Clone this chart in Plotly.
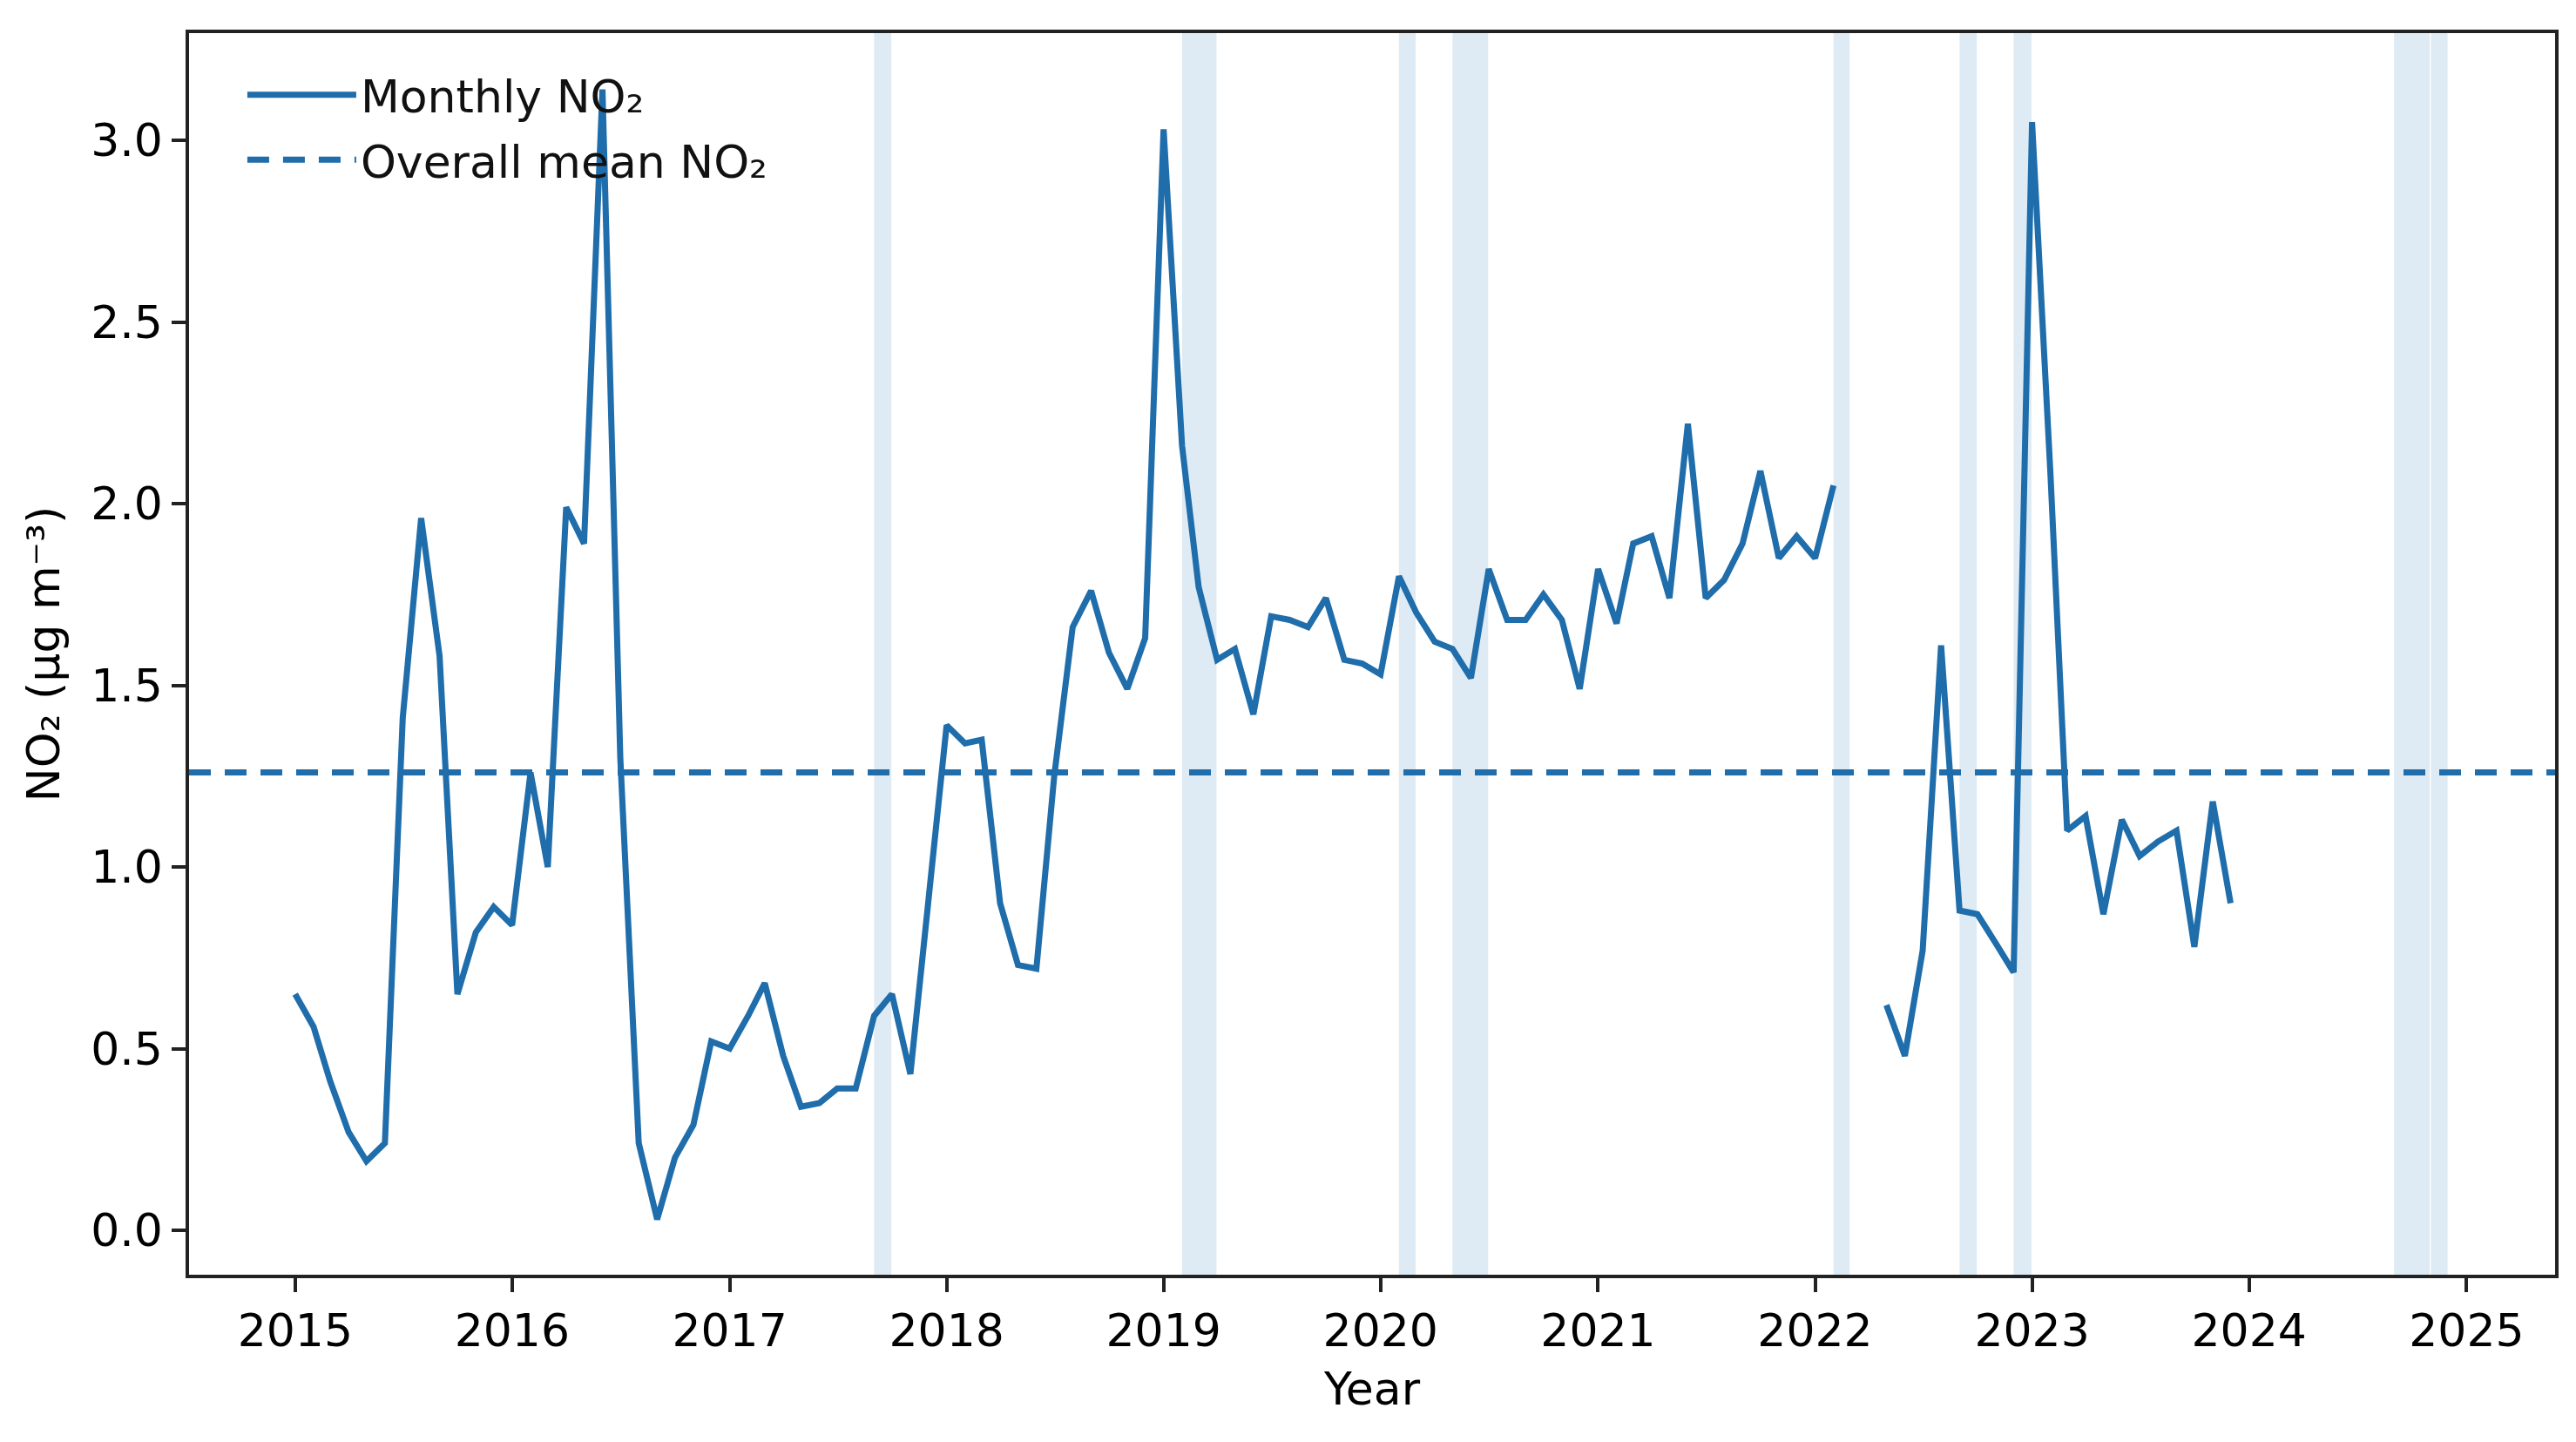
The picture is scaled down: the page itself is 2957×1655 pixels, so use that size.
import plotly.graph_objects as go

# ---------------- data ----------------
MONTHS = [f"{y}-{m:02d}-01" for y in range(2015, 2024) for m in range(1, 13)]

NO2_2015 = [0.65, 0.56, 0.41, 0.27, 0.19, 0.24, 1.41, 1.96, 1.58, 0.65, 0.82, 0.89]
NO2_2016 = [0.84, 1.26, 1.00, 1.99, 1.89, 3.14, 1.30, 0.24, 0.03, 0.20, 0.29, 0.52]
NO2_2017 = [0.50, 0.59, 0.68, 0.48, 0.34, 0.35, 0.39, 0.39, 0.59, 0.65, 0.43, 0.92]
NO2_2018 = [1.39, 1.34, 1.35, 0.90, 0.73, 0.72, 1.25, 1.66, 1.76, 1.59, 1.49, 1.63]
NO2_2019 = [3.03, 2.16, 1.77, 1.57, 1.60, 1.42, 1.69, 1.68, 1.66, 1.74, 1.57, 1.56]
NO2_2020 = [1.53, 1.80, 1.70, 1.62, 1.60, 1.52, 1.82, 1.68, 1.68, 1.75, 1.68, 1.49]
NO2_2021 = [1.82, 1.67, 1.89, 1.91, 1.74, 2.22, 1.74, 1.79, 1.89, 2.09, 1.85, 1.91]
NO2_2022 = [1.85, 2.05, None, None, 0.62, 0.48, 0.77, 1.61, 0.88, 0.87, 0.79, 0.71]
NO2_2023 = [3.05, 2.08, 1.10, 1.14, 0.87, 1.13, 1.03, 1.07, 1.10, 0.78, 1.18, 0.90]

OVERALL_MEAN = 1.26

SPAN_STARTS = ["2017-09-01", "2019-02-01", "2020-02-01", "2020-05-01", "2022-02-01",
               "2022-09-01", "2022-12-01", "2024-09-01", "2024-11-02"]
SPAN_ENDS = ["2017-09-30", "2019-03-31", "2020-02-29", "2020-06-30", "2022-02-28",
             "2022-09-30", "2022-12-31", "2024-10-31", "2024-11-30"]

YEAR_TICKS = [f"{y}-01-01" for y in range(2015, 2026)]
YEAR_LABELS = [str(y) for y in range(2015, 2026)]
Y_TICKS = [0.0, 0.5, 1.0, 1.5, 2.0, 2.5, 3.0]

X_RANGE = ["2014-07-06 12:00", "2025-05-29 22:00"]
Y_RANGE = [-0.1223, 3.295]

# ---------------- styling ----------------
LINE_COLOR = "#1f6dab"
SPAN_COLOR = "rgba(31,119,180,0.15)"
AXIS_COLOR = "#222222"
FONT = "DejaVu Sans"
FS = 52

values = (NO2_2015 + NO2_2016 + NO2_2017 + NO2_2018 + NO2_2019 +
          NO2_2020 + NO2_2021 + NO2_2022 + NO2_2023)

fig = go.Figure()

fig.add_trace(go.Scatter(
    x=MONTHS, y=values, mode="lines", name="Monthly NO₂", legendgroup="monthly",
    line=dict(color=LINE_COLOR, width=7), connectgaps=False,
))

shapes = []
for s, e in zip(SPAN_STARTS, SPAN_ENDS):
    shapes.append(dict(type="rect", xref="x", yref="paper", x0=s, x1=e, y0=0, y1=1,
                       fillcolor=SPAN_COLOR, line=dict(width=0), layer="below"))
shapes.append(dict(type="line", xref="paper", yref="y", x0=0, x1=1,
                   y0=OVERALL_MEAN, y1=OVERALL_MEAN, layer="below",
                   line=dict(color=LINE_COLOR, width=7, dash="25px,16px"),
                   showlegend=True, name="Overall mean NO₂", legendgroup="mean"))

# page body has an 8px margin: shrink the figure so the plot area lands where the reference has it
fig.update_layout(
    width=2941, height=1639,
    margin=dict(l=209, r=14, t=30, b=184, pad=0),
    paper_bgcolor="white", plot_bgcolor="white",
    font=dict(family=FONT, size=FS, color="black"),
    shapes=shapes,
    showlegend=True,
    legend=dict(x=0.0228, y=0.9787, xanchor="left", yanchor="top",
                itemwidth=125, traceorder="grouped", tracegroupgap=4,
                bgcolor="rgba(0,0,0,0)", borderwidth=0,
                font=dict(family=FONT, size=FS, color="#111")),
    xaxis=dict(
        type="date", range=X_RANGE,
        tickvals=YEAR_TICKS, ticktext=YEAR_LABELS,
        showgrid=False, zeroline=False,
        showline=True, linecolor=AXIS_COLOR, linewidth=3.5, mirror=True,
        ticks="outside", ticklen=16, tickwidth=3.5, tickcolor=AXIS_COLOR,
        tickfont=dict(family=FONT, size=FS, color="black"),
        title=dict(text="Year", font=dict(family=FONT, size=FS, color="black"), standoff=20),
    ),
    yaxis=dict(
        range=Y_RANGE, tickvals=Y_TICKS, tickformat=".1f",
        showgrid=False, zeroline=False,
        showline=True, linecolor=AXIS_COLOR, linewidth=3.5, mirror=True,
        ticks="outside", ticklen=16, tickwidth=3.5, tickcolor=AXIS_COLOR,
        tickfont=dict(family=FONT, size=FS, color="black"),
        title=dict(text="NO₂ (µg m⁻³)", font=dict(family=FONT, size=FS, color="black"), standoff=20),
    ),
)

fig.write_html("out.html")
